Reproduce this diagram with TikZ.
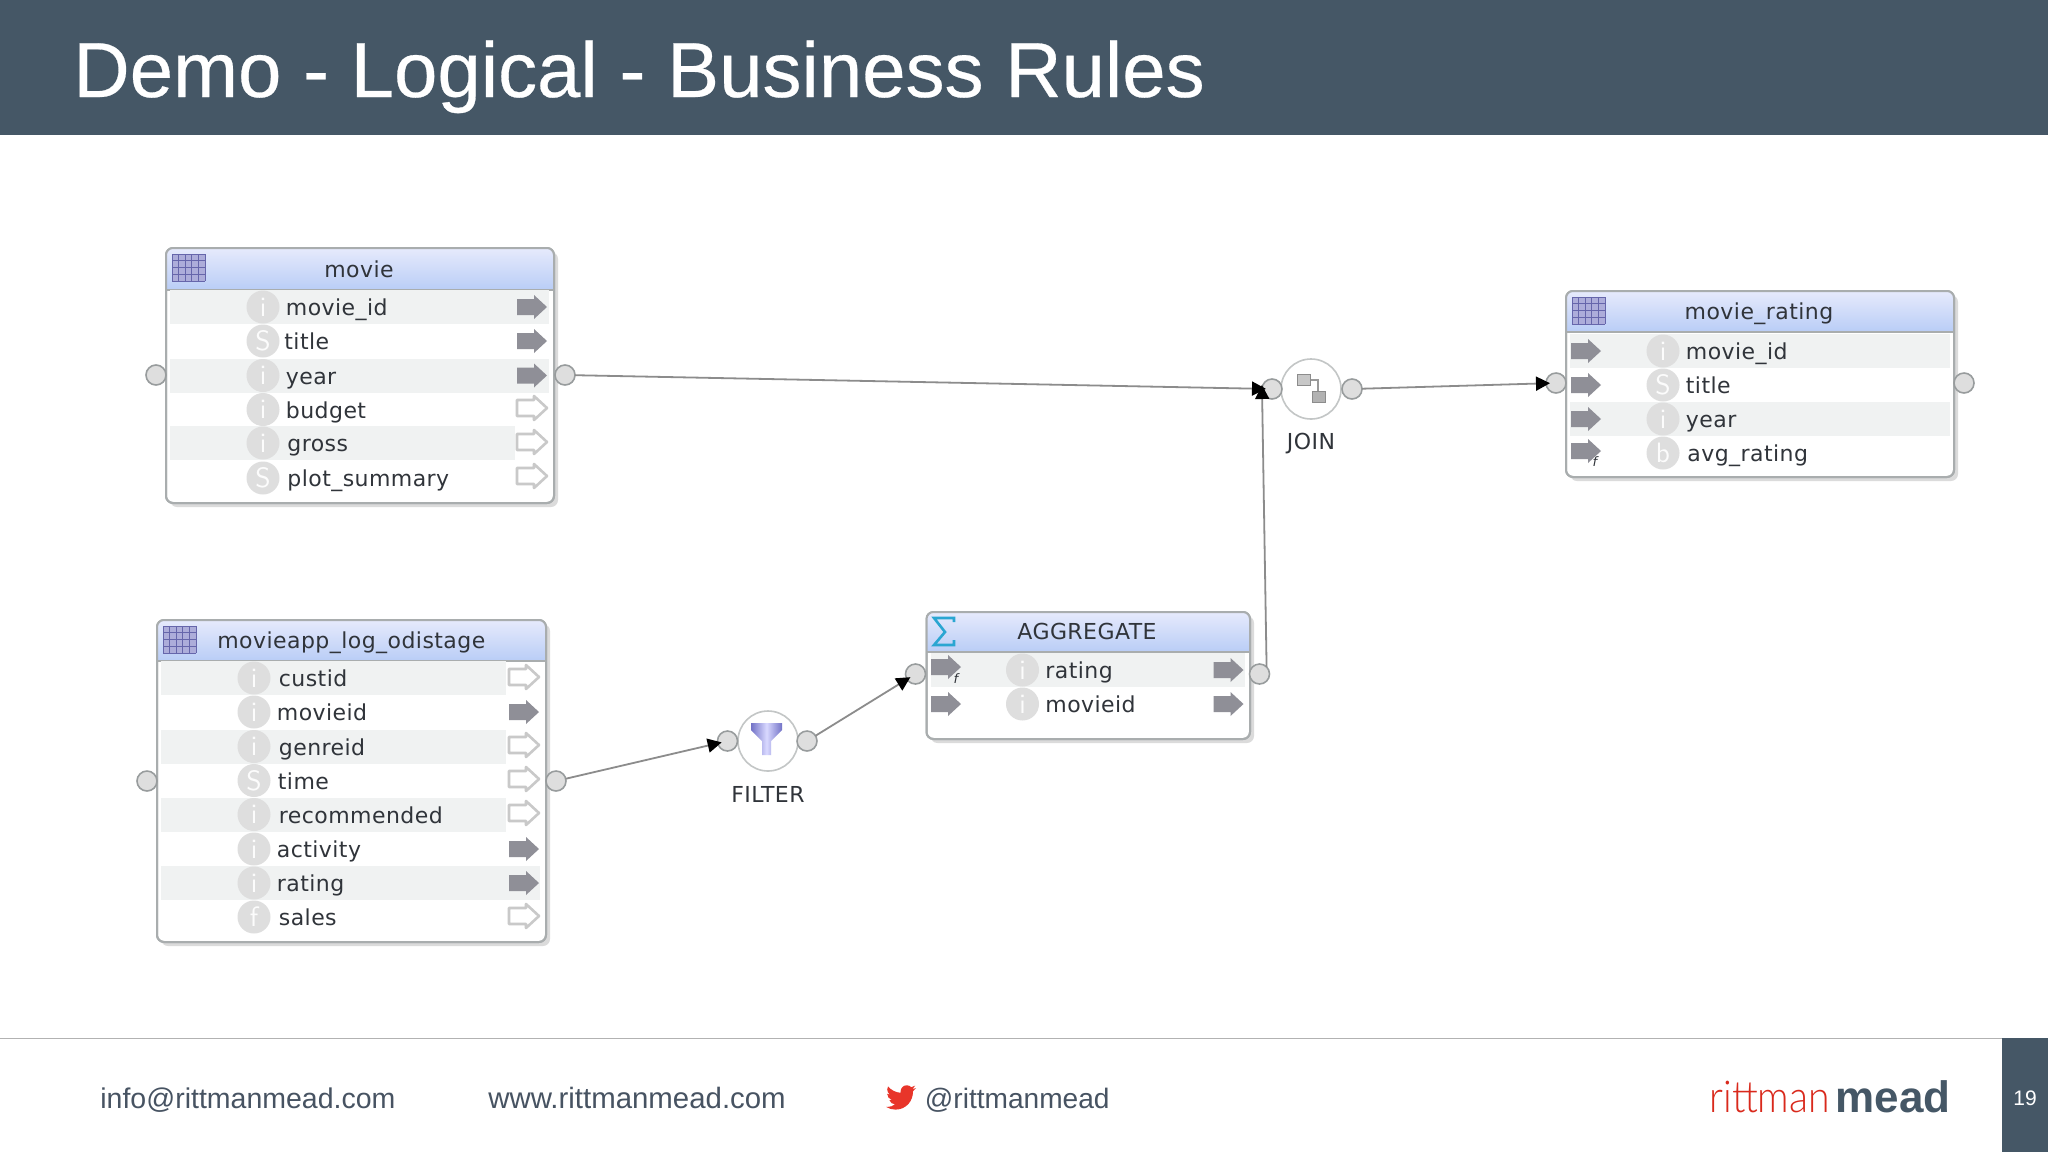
\documentclass[tikz,border=0pt]{standalone}
\usepackage{fontspec}
\usepackage{graphicx}
\usetikzlibrary{arrows.meta,shadows}
\setmainfont{Liberation Sans}
\newfontfamily\diagfont[LetterSpace=2]{DejaVu Sans}
\newfontfamily\lightf{Lato Light}
\newfontfamily\titlef[FakeBold=0.35]{Liberation Sans}
\definecolor{slate}{HTML}{455766}
\definecolor{footink}{HTML}{475362}
\definecolor{logored}{HTML}{D9291C}
\definecolor{twred}{HTML}{E8352A}
\definecolor{band}{HTML}{F0F2F2}
\definecolor{hdrtop}{HTML}{E6EAFC}
\definecolor{hdrbot}{HTML}{B9CDF6}
\definecolor{boxline}{HTML}{A9ADAE}
\definecolor{typegray}{HTML}{DEDEDE}
\definecolor{arrgray}{HTML}{8F8F97}
\definecolor{arrline}{HTML}{C9C9C9}
\definecolor{ink}{HTML}{30343A}
\definecolor{sigma}{HTML}{2AA6D2}
\tikzset{
  x=0.5pt,y=-0.5pt,
  boxnode/.style={draw=boxline,line width=1pt,rounded corners=3.5pt,fill=white,inner sep=0pt,outer sep=0pt,anchor=north west,
    drop shadow={shadow xshift=2pt,shadow yshift=-2pt,fill=black,opacity=.14}},
  hdrshade/.style={top color=hdrtop,bottom color=hdrbot},
  hdrrule/.style={draw=boxline,line width=0.9pt},
  bandfill/.style={fill=band},
  typecirc/.style={circle,fill=typegray,minimum size=16.5pt,inner sep=0pt,text=white!90!typegray,font=\sffamily\fontsize{14}{14}\selectfont},
  fieldtext/.style={anchor=base west,inner sep=0pt,text=ink,font=\diagfont\fontsize{11}{13}\selectfont},
  boxtitle/.style={inner sep=0pt,text=ink,font=\diagfont\fontsize{11}{13}\selectfont},
  port/.style={circle,fill=typegray,draw=boxline!90!black,line width=0.8pt,minimum size=10pt,inner sep=0pt,outer sep=0pt},
  opnode/.style={circle,fill=white,draw=boxline!70!white,line width=0.8pt,minimum size=30pt,inner sep=0pt,outer sep=0pt},
  link/.style={draw=black!45,line width=0.9pt,shorten >=-2pt,-{Triangle[length=7pt,width=7pt,color=black]}},
  arrfull/.style={fill=arrgray},
  arrhollow/.style={fill=white,draw=arrline,line width=1.3pt,line join=round},
  footer/.style={anchor=base west,inner sep=0pt,text=footink},
}
\newcommand{\dbox}[6]{%
  \node[boxnode,minimum width={(#4-#2)*0.5pt},minimum height={(#5-#3)*0.5pt}] (#1) at (#2,#3) {};
  \shade[hdrshade] (#2,#6) {[rounded corners=3.5pt] -- (#2,#3) -- (#4,#3)} -- (#4,#6) -- cycle;
  \draw[hdrrule] (#2,#6) -- (#4,#6);
  \draw[draw=boxline,line width=1pt,rounded corners=3.5pt] (#2,#3) rectangle (#4,#5);
}
\newcommand{\rowband}[3]{\fill[bandfill] (#1,#3-17) rectangle (#2,#3+17);}
\newcommand{\fld}[6]{%
  \node[typecirc] (#1c) at (#2,#3) {#4};
  \node[fieldtext] (#1t) at (#5,#3+8.5) {#6};
}
\newcommand{\arrowicon}[3]{%
  \path[#1,shift={(#2,#3)}] (0,-8) -- (17,-8) -- (17,-12) -- (30,0) -- (17,12) -- (17,8) -- (0,8) -- cycle;
}
\newcommand{\tableicon}[2]{%
  \begin{scope}[shift={(#1,#2)}]
    \fill[fill=blue!55!black!32!white] (0,0) rectangle (33,27);
    \foreach \gx in {0,6.6,13.2,19.8,26.4,33} \draw[draw=blue!45!black!60!white,line width=0.5pt] (\gx,0) -- (\gx,27);
    \foreach \gy in {0,6.75,13.5,20.25,27} \draw[draw=blue!45!black!60!white,line width=0.5pt] (0,\gy) -- (33,\gy);
  \end{scope}
}
\begin{document}
\begin{tikzpicture}
\useasboundingbox (0,0) rectangle (2048,1152);
\fill[white] (0,0) rectangle (2048,1152);
% header
\fill[slate] (0,0) rectangle (2048,134.5);
\node[anchor=base west,inner sep=0pt,text=white,font=\titlef\fontsize{39}{44}\selectfont] (title) at (73,97) {Demo - Logical - Business Rules};
% footer
\draw[draw=black!30,line width=0.8pt] (0,1038.5) -- (2002,1038.5);
\fill[slate] (2002,1038) rectangle (2048,1152);
\node[footer,font=\fontsize{14.25}{16}\selectfont] (mail) at (100,1108) {info@rittmanmead.com};
\node[footer,font=\fontsize{14.7}{16}\selectfont] (web) at (488,1108) {www.rittmanmead.com};
\node[footer,font=\fontsize{14.05}{16}\selectfont] (tw) at (924.5,1108) {@rittmanmead};
\fill[twred,shift={(886,1082.4)},x=0.625pt,y=-0.625pt]
  (23.95,4.57) -- (21.13,5.35) -- (23.29,2.62) -- (20.16,3.81)
  .. controls (19.26,2.85) and (18,2.27) .. (16.6,2.27)
  .. controls (13.88,2.27) and (11.68,4.47) .. (11.68,7.19)
  .. controls (11.68,7.57) and (11.72,7.95) .. (11.78,8.29)
  .. controls (7.69,8.1) and (4.07,6.13) .. (1.64,3.16)
  -- (0.97,5.64)
  .. controls (0.97,7.35) and (1.84,8.85) .. (3.16,9.73)
  -- (0.93,9.12) -- (0.93,9.18)
  .. controls (0.93,11.5) and (2.6,13.55) .. (4.88,14.0)
  -- (2.67,14.09)
  .. controls (3.3,16.1) and (5.1,17.45) .. (7.27,17.5)
  .. controls (5.6,18.9) and (3.4,19.6) .. (1.17,19.6)
  -- (0,19.54)
  .. controls (2.2,21) and (4.8,21.75) .. (7.56,21.75)
  .. controls (16.6,21.75) and (21.56,14.25) .. (21.56,7.76)
  -- (21.54,7.13) -- (24,4.59) -- cycle;
\node[anchor=base west,inner sep=0pt,text=logored,font=\lightf\fontsize{22}{24}\selectfont] (logoa) at (1709,1112) {\scalebox{0.89}[1]{rittman}};
\node[anchor=base west,inner sep=0pt,text=slate,font=\bfseries\fontsize{22}{24}\selectfont] (logob) at (1835,1112) {mead};
\node[inner sep=0pt,text=white,font=\fontsize{10.5}{12}\selectfont] (pageno) at (2025,1098) {19};

% movie
\dbox{movie}{166}{248}{554}{503}{290}
\rowband{170}{549}{307}\rowband{170}{549}{375.5}\rowband{170}{515}{443}
\tableicon{172}{254}
\node[boxtitle] (movietitle) at (359,269) {movie};
\fld{ma}{263}{307}{i}{285.5}{movie\_id}
\fld{mb}{263}{341}{S}{284}{title}
\fld{mc}{263}{375.5}{i}{285.5}{year}
\fld{md}{263}{409.5}{i}{285.5}{budget}
\fld{me}{263}{443}{i}{287}{gross}
\fld{mf}{263}{478}{S}{287}{plot\_summary}
\arrowicon{arrfull}{517}{307}\arrowicon{arrfull}{517}{341}\arrowicon{arrfull}{517}{375.5}
\arrowicon{arrhollow}{517}{408}\arrowicon{arrhollow}{517}{442}\arrowicon{arrhollow}{517}{476}
\node[port] (mleft) at (156,375) {};
\node[port] (mright) at (565,375) {};

% log table
\dbox{log}{157}{620}{546}{942}{661}
\rowband{161}{506}{678}\rowband{161}{506}{746.5}\rowband{161}{506}{814.5}\rowband{161}{540}{883}
\tableicon{163}{626}
\node[boxtitle,anchor=base west] (logtitle) at (217,648) {movieapp\_log\_odistage};
\fld{la}{254}{678}{i}{278.5}{custid}
\fld{lb}{254}{712}{i}{276.5}{movieid}
\fld{lc}{254}{746.5}{i}{278.5}{genreid}
\fld{ld}{254}{780.5}{S}{277.5}{time}
\fld{le}{254}{814.5}{i}{278.5}{recommended}
\fld{lf}{254}{849}{i}{276.5}{activity}
\fld{lg}{254}{883}{i}{276.5}{rating}
\fld{lh}{254}{917}{f}{278.5}{sales}
\arrowicon{arrhollow}{509}{677}\arrowicon{arrfull}{509}{712}\arrowicon{arrhollow}{509}{745}\arrowicon{arrhollow}{509}{779}
\arrowicon{arrhollow}{509}{813}\arrowicon{arrfull}{509}{849}\arrowicon{arrfull}{509}{883}\arrowicon{arrhollow}{509}{916}
\node[port] (lleft) at (147,781) {};
\node[port] (lright) at (556,781) {};

% aggregate
\dbox{agg}{926.5}{612}{1250}{739}{652}
\rowband{931}{1245}{670}
\draw[draw=sigma,line width=1.3pt,line join=miter] (954,622) -- (954,618) -- (934,618) -- (945,632) -- (934,645) -- (954,645) -- (954,640);
\node[boxtitle] (aggtitle) at (1087,631) {AGGREGATE};
\fld{aa}{1022.5}{670}{i}{1045}{rating}
\fld{ab}{1022.5}{704}{i}{1045}{movieid}
\arrowicon{arrfull}{931}{667}\arrowicon{arrfull}{931}{704}
\arrowicon{arrfull}{1213.5}{670}\arrowicon{arrfull}{1213.5}{704}
\node[inner sep=0pt,text=ink,font=\diagfont\itshape\fontsize{6.5}{7}\selectfont] (aggf) at (956,679) {f};
\node[port] (aleft) at (915.5,674) {};
\node[port] (aright) at (1259.5,674) {};

% movie_rating
\dbox{rate}{1566}{291}{1954}{477}{332}
\rowband{1570}{1950}{351}\rowband{1570}{1950}{419}
\tableicon{1572}{297}
\node[boxtitle] (ratetitle) at (1759,314) {movie\_rating};
\fld{ra}{1663}{351}{i}{1685.5}{movie\_id}
\fld{rb}{1663}{385}{S}{1685.5}{title}
\fld{rc}{1663}{419}{i}{1685.5}{year}
\fld{rd}{1663}{453}{b}{1687}{avg\_rating}
\arrowicon{arrfull}{1571}{351}\arrowicon{arrfull}{1571}{385}\arrowicon{arrfull}{1571}{419}\arrowicon{arrfull}{1571}{451}
\node[inner sep=0pt,text=ink,font=\diagfont\itshape\fontsize{6.5}{7}\selectfont] (ratef) at (1595,462) {f};
\node[port] (rleft) at (1556,383) {};
\node[port] (rright) at (1964,383) {};

% filter
\node[opnode] (filter) at (768,741) {};
\shade[left color=blue!60!black!55!white,right color=blue!60!black!55!white,middle color=blue!15!white]
  (751,723) -- (782,723) -- (782,730) -- (771,741) -- (771,755) -- (762,755) -- (762,741) -- (751,730) -- cycle;
\node[port] (fleft) at (727.5,741) {};
\node[port] (fright) at (807,741) {};
\node[boxtitle] (filterlabel) at (768,794) {FILTER};

% join
\node[opnode] (join) at (1311,389) {};
\draw[draw=black!40,line width=0.7pt] (1310,380) -- (1318,380) -- (1318,391);
\filldraw[fill=black!22,draw=black!45,line width=0.5pt] (1297,374) rectangle (1310,385);
\filldraw[fill=black!30,draw=black!45,line width=0.5pt] (1312,391) rectangle (1325,402);
\node[port] (jleft) at (1272,389) {};
\node[port] (jright) at (1352,389) {};
\node[boxtitle] (joinlabel) at (1311,444) {JOIN};

% connectors
\draw[link] (mright) -- (jleft);
\draw[link] (aright.north east) -- (jleft.west);
\draw[link] (jright) -- (rleft);
\draw[link] (lright) -- (fleft);
\draw[link] (fright) -- (aleft);
\end{tikzpicture}
\end{document}
